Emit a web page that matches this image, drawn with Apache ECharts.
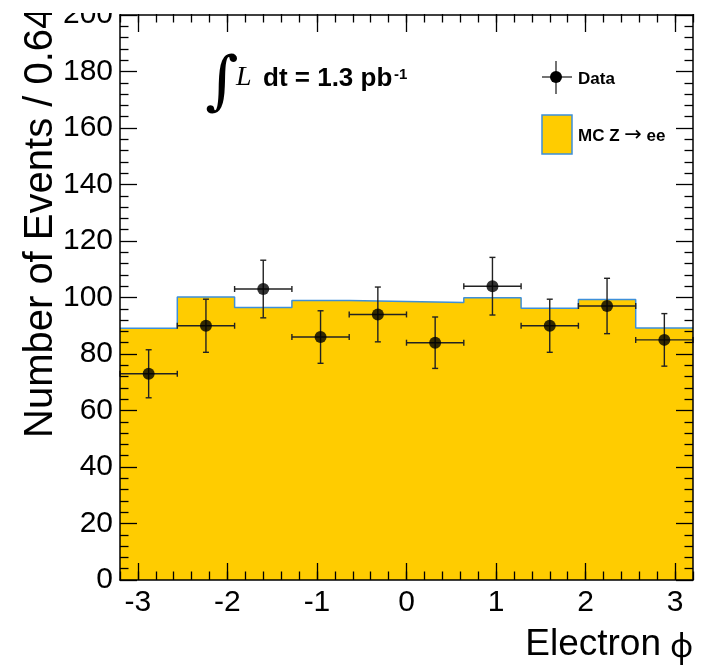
<!DOCTYPE html>
<html><head><meta charset="utf-8">
<script src="https://cdn.jsdelivr.net/npm/echarts@6/dist/echarts.min.js"></script>
<style>html,body{margin:0;padding:0;background:#fff}#c{width:712px;height:666px}</style>
</head><body><div id="c"></div>
<script>
// ---- data ----
const binEdges   = [-3.2, -2.56, -1.92, -1.28, -0.64, 0, 0.64, 1.28, 1.92, 2.56, 3.2];
const mcValues   = [89.1, 100.2, 96.5, 98.9, 98.6, 98.2, 99.9, 96.2, 99.3, 89.2];
const binCenters = [-2.88, -2.24, -1.6, -0.96, -0.32, 0.32, 0.96, 1.6, 2.24, 2.88];
const dataCounts = [73, 90, 103, 86, 94, 84, 104, 90, 97, 85];
const dataErrors = [8.5, 9.4, 10.2, 9.3, 9.7, 9.1, 10.2, 9.4, 9.8, 9.3];
const xHalfWidth = 0.32;
const xTickLabels = [-3, -2, -1, 0, 1, 2, 3];
const yTickLabels = [0, 20, 40, 60, 80, 100, 120, 140, 160, 180, 200];

const FONT = 'Liberation Sans, Arial, Helvetica, sans-serif';
const chart = echarts.init(document.getElementById('c'), null, {renderer: 'canvas'});

const mcLine = binEdges.map((e, i) => [e, i < mcValues.length ? mcValues[i] : mcValues[mcValues.length - 1]]);
const points = binCenters.map((x, i) => [x, dataCounts[i], dataErrors[i]]);

const gridRect = {left: 120, right: 19, top: 14, bottom: 86};
const axLine = {show: true, onZero: false, lineStyle: {color: '#000', width: 1.5}};
const majorX = {
  type: 'value', min: -3.2, max: 3.2, z: 10, splitLine: {show: false},
  axisLine: axLine,
  axisTick: {show: true, inside: true, length: 17, customValues: xTickLabels, lineStyle: {color: '#000', width: 1.3}}
};
const minorX = {
  type: 'value', min: -3.2, max: 3.2, interval: 0.2, z: 10, splitLine: {show: false},
  axisLine: {show: false, onZero: false}, axisLabel: {show: false},
  axisTick: {show: true, inside: true, length: 8.5, lineStyle: {color: '#000', width: 1.3}}
};
const yBase = {
  type: 'value', min: 0, max: 200, interval: 20, z: 10, splitLine: {show: false},
  axisLine: axLine,
  axisTick: {show: true, inside: true, length: 17, lineStyle: {color: '#000', width: 1.3}},
  minorTick: {show: true, splitNumber: 5, length: 8.5, lineStyle: {color: '#000', width: 1.3}}
};

chart.setOption({
  animation: false,
  backgroundColor: '#fff',
  grid: [Object.assign({}, gridRect), Object.assign({}, gridRect)],
  xAxis: [
    Object.assign({}, majorX, {gridIndex: 0, position: 'bottom',
      axisLabel: {show: true, customValues: xTickLabels, fontSize: 30, fontFamily: FONT, color: '#000', margin: 8}}),
    Object.assign({}, majorX, {gridIndex: 0, position: 'top', axisLabel: {show: false}}),
    Object.assign({}, minorX, {gridIndex: 1, position: 'bottom'}),
    Object.assign({}, minorX, {gridIndex: 1, position: 'top'})
  ],
  yAxis: [
    Object.assign({}, yBase, {gridIndex: 0, position: 'left',
      axisLabel: {show: true, fontSize: 30, fontFamily: FONT, color: '#000', margin: 7,
        formatter: v => yTickLabels.includes(v) ? String(v) : ''}}),
    Object.assign({}, yBase, {gridIndex: 0, position: 'right', axisLabel: {show: false}}),
    {type: 'value', gridIndex: 1, min: 0, max: 200, show: false, axisLine: {onZero: false}}
  ],
  series: [
    {
      name: 'MC Z → ee', type: 'line', xAxisIndex: 0, yAxisIndex: 0, step: 'end',
      data: mcLine, symbol: 'none', z: 2,
      lineStyle: {color: '#3d8fd9', width: 1.5},
      areaStyle: {color: '#ffcc00', opacity: 1}
    },
    {
      name: 'Data errors', type: 'custom', xAxisIndex: 0, yAxisIndex: 0, z: 4,
      data: points,
      renderItem: function (params, api) {
        const x = api.value(0), y = api.value(1), e = api.value(2);
        const c = api.coord([x, y]);
        const l = api.coord([x - xHalfWidth, y]);
        const r = api.coord([x + xHalfWidth, y]);
        const t = api.coord([x, y + e]);
        const b = api.coord([x, y - e]);
        const st = {stroke: '#222', lineWidth: 1.4};
        const cap = 3;
        return {type: 'group', children: [
          {type: 'line', shape: {x1: l[0], y1: c[1], x2: r[0], y2: c[1]}, style: st},
          {type: 'line', shape: {x1: c[0], y1: t[1], x2: c[0], y2: b[1]}, style: st},
          {type: 'line', shape: {x1: l[0], y1: c[1] - cap, x2: l[0], y2: c[1] + cap}, style: st},
          {type: 'line', shape: {x1: r[0], y1: c[1] - cap, x2: r[0], y2: c[1] + cap}, style: st},
          {type: 'line', shape: {x1: c[0] - cap, y1: t[1], x2: c[0] + cap, y2: t[1]}, style: st},
          {type: 'line', shape: {x1: c[0] - cap, y1: b[1], x2: c[0] + cap, y2: b[1]}, style: st}
        ]};
      }
    },
    {
      name: 'Data', type: 'scatter', xAxisIndex: 0, yAxisIndex: 0, z: 5,
      data: points.map(p => [p[0], p[1]]), symbol: 'circle', symbolSize: 12,
      itemStyle: {color: '#000'}
    }
  ],
  graphic: [
    // y-axis title
    {type: 'text', x: 41, y: 438, rotation: Math.PI / 2, z: 50,
      style: {text: 'Number of Events / 0.64', font: '40px ' + FONT, fill: '#000', align: 'left', verticalAlign: 'middle'}},
    // top strip clipped in the reference
    {type: 'rect', shape: {x: 0, y: 0, width: 119, height: 13}, style: {fill: '#fff'}, z: 100},
    // x-axis title
    {type: 'text', x: 661, y: 645, z: 50,
      style: {text: 'Electron', font: '37px ' + FONT, fill: '#000', align: 'right', verticalAlign: 'middle'}},
    {type: 'text', x: 670, y: 648, z: 50,
      style: {text: 'φ', font: '32px Noto Sans, sans-serif', fill: '#000', align: 'left', verticalAlign: 'middle'}},
    // luminosity text
    {type: 'text', x: 205, y: 85, z: 50, style: {text: '∫', font: '64px DejaVu Serif, serif', fill: '#000', align: 'left', verticalAlign: 'middle'}},
    {type: 'text', x: 236, y: 92, z: 50, style: {text: 'L', font: 'italic 28px Liberation Serif, Times New Roman, serif', fill: '#000', align: 'left', verticalAlign: 'bottom'}},
    {type: 'text', x: 263, y: 92, z: 50, style: {text: 'dt = 1.3 pb', font: 'bold 26px ' + FONT, fill: '#000', align: 'left', verticalAlign: 'bottom'}},
    {type: 'text', x: 394, y: 75, z: 50, style: {text: '-1', font: 'bold 15px ' + FONT, fill: '#000', align: 'left', verticalAlign: 'middle'}},
    // legend: Data
    {type: 'line', z: 50, shape: {x1: 542, y1: 77, x2: 572, y2: 77}, style: {stroke: '#444', lineWidth: 1.5}},
    {type: 'line', z: 50, shape: {x1: 556, y1: 61, x2: 556, y2: 94}, style: {stroke: '#444', lineWidth: 1.5}},
    {type: 'circle', z: 50, shape: {cx: 556, cy: 77, r: 6}, style: {fill: '#000'}},
    {type: 'text', x: 578, y: 79, z: 50, style: {text: 'Data', font: 'bold 17px ' + FONT, fill: '#000', align: 'left', verticalAlign: 'middle'}},
    // legend: MC
    {type: 'rect', z: 50, shape: {x: 542, y: 115, width: 30, height: 39}, style: {fill: '#ffcc00', stroke: '#3d8fd9', lineWidth: 1.5}},
    {type: 'text', x: 578, y: 136, z: 50, style: {
      text: '{t|MC Z }{a|→}{t| ee}', align: 'left', verticalAlign: 'middle',
      rich: {
        t: {font: 'bold 17px ' + FONT, fill: '#000'},
        a: {font: '21px DejaVu Sans, sans-serif', fill: '#000'}
      }}}
  ]
});
</script>
</body></html>
